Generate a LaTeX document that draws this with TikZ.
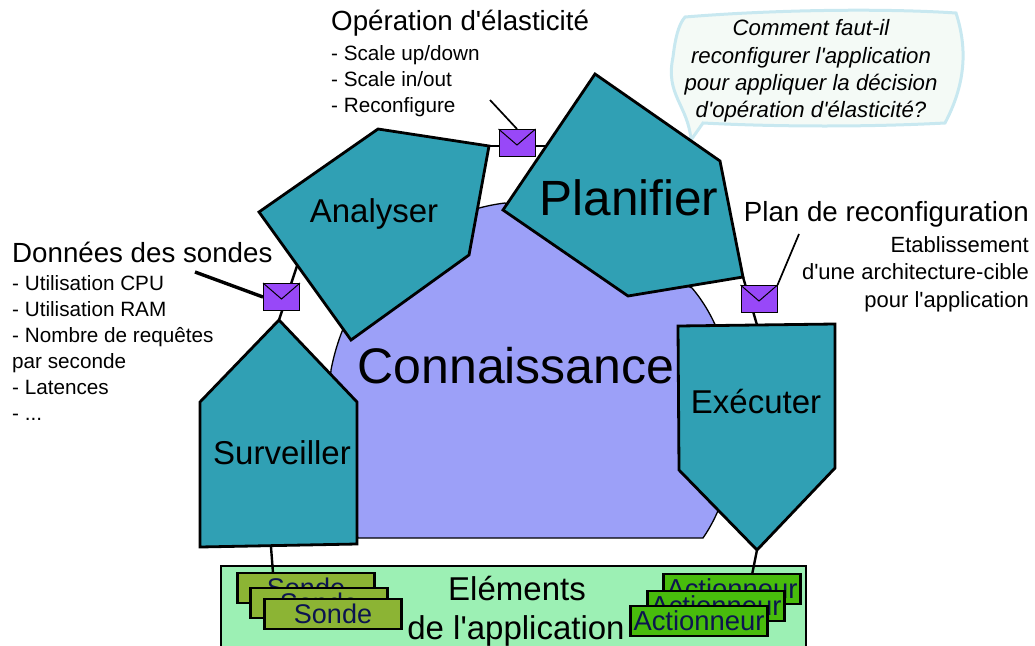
\documentclass[tikz,border=0pt]{standalone}
\usepackage{fontspec}
\defaultfontfeatures[\rmfamily]{}
\setmainfont{Liberation Sans}[Ligatures=ResetAll]
\usetikzlibrary{calc}
\definecolor{tealbox}{HTML}{30A0B4}
\definecolor{knowledge}{HTML}{9CA0F8}
\definecolor{appgreen}{HTML}{9CF0B4}
\definecolor{sondegreen}{HTML}{8CB434}
\definecolor{actgreen}{HTML}{48BC0C}
\definecolor{mailpurple}{HTML}{9848F8}
\definecolor{bubblefill}{HTML}{F4FAF6}
\definecolor{bubbleline}{HTML}{C8E8F0}
\definecolor{navytext}{HTML}{0C1450}
\def\fsize#1{\fontsize{#1}{#1}\selectfont}
\def\mail(#1)(#2)% Syntax: (name) (center)
    { \node[mailbox] (#1) at (#2) {};
      \draw[line width=1pt] (#1.north west) -- ($(#1.center)+(0,2)$) -- (#1.north east); }
\begin{document}
\begin{tikzpicture}
    [x=1pt,y=-1pt,
     phase/.style={draw=black,line width=2.8pt,line join=miter,fill=tealbox},
     link/.style={black,line width=2.4pt},
     leader/.style={black,line width=1.7pt},
     mailbox/.style={draw=black,line width=1pt,fill=mailpurple,minimum width=36pt,minimum height=27pt,inner sep=0pt},
     sonde/.style={draw=black,line width=2.4pt,fill=sondegreen,minimum width=137pt,minimum height=30pt,inner sep=0pt,text=navytext,font=\fsize{27}},
     actuator/.style={draw=black,line width=2.4pt,fill=actgreen,minimum width=137pt,minimum height=30pt,inner sep=0pt,text=navytext,font=\fsize{27.4}},
     title/.style={inner sep=0pt,font=\fsize{27.7}},
     phasename/.style={inner sep=0pt,font=\fsize{33}},
     details/.style={inner sep=0pt,font=\fontsize{20.7}{26}\selectfont}]
    \useasboundingbox (0,0) rectangle (1035,645);

    % corners of the phases
    \coordinate (anaA) at (378,129);
    \coordinate (anaB) at (489,146);
    \coordinate (anaC) at (469,255);
    \coordinate (anaD) at (351,340);
    \coordinate (anaE) at (259,212);
    \coordinate (anaEdge) at (297,266);
    \coordinate (plaA) at (595,74);
    \coordinate (plaB) at (720,161);
    \coordinate (plaC) at (743,277);
    \coordinate (plaD) at (628,296);
    \coordinate (plaE) at (503,210);
    \coordinate (plaEdge) at (555,146);
    \coordinate (surA) at (279,320);
    \coordinate (surB) at (357,402);
    \coordinate (surC) at (357,544);
    \coordinate (surD) at (200,547);
    \coordinate (surE) at (200,402);
    \coordinate (exeA) at (678,326);
    \coordinate (exeB) at (835,324);
    \coordinate (exeC) at (835,468);
    \coordinate (exeD) at (757,550);
    \coordinate (exeE) at (679,470);
    \coordinate (exeEdge) at (757,325);

    % knowledge
    \draw[fill=knowledge,line width=1.3pt] (505,203)
        .. controls (430,212) and (350,270) .. (331,370)
        .. controls (326,430) and (340,500) .. (358,538)
        -- (703,538) .. controls (750,470) and (745,350) .. (692,288) -- cycle;
    \node[inner sep=0pt,font=\fsize{50}] (connaissance) at (516,366) {Connaissance};

    % application
    \draw[fill=appgreen,line width=2.4pt] (221,566) rectangle (806,660);
    \node[inner sep=0pt,font=\fsize{33}] (elements) at (517,589) {Eléments};
    \node[inner sep=0pt,font=\fsize{33}] (application) at (516,631) {de l'application};

    \draw[fill=bubblefill,draw=bubbleline,line width=3pt] (685,17)
        .. controls (770,10) and (880,8) .. (956,13)
        .. controls (968,50) and (965,85) .. (945,123)
        .. controls (870,127) and (780,127) .. (703,123)
        -- (691,140) .. controls (688,105) and (665,95) .. (673,57)
        .. controls (675,40) and (678,25) .. (685,17) -- cycle;
    \node[inner sep=0pt,align=center,font=\fontsize{22.2}{27.3}\selectfont\itshape] (question) at (811,71)
        {Comment faut-il\\reconfigurer l'application\\pour appliquer la décision\\d'opération d'élasticité?};

    \draw[link] (surA) -- (anaEdge);
    \draw[link] (anaB) -- (plaEdge);
    \draw[link] (plaC) -- (exeEdge);
    \draw[link] (surD)++(71,0) -- ++(2,26);
    \draw[link] (exeD) -- (752,575);

    % sensors and actuators
    \node[sonde] (sondeA) at (306,588) {Sonde};
    \node[sonde] (sondeB) at (319,603) {Sonde};
    \node[sonde] (sondeC) at (333,614) {Sonde};
    \node[actuator] (actA) at (732,589) {Actionneur};
    \node[actuator] (actB) at (716,606) {Actionneur};
    \node[actuator] (actC) at (699,621) {Actionneur};

    % phases
    \draw[phase] (anaA) -- (anaB) -- (anaC) -- (anaD) -- (anaE) -- cycle;
    \draw[phase] (plaA) -- (plaB) -- (plaC) -- (plaD) -- (plaE) -- cycle;
    \draw[phase] (surA) -- (surB) -- (surC) -- (surD) -- (surE) -- cycle;
    \draw[phase] (exeA) -- (exeB) -- (exeC) -- (exeD) -- (exeE) -- cycle;
    \node[phasename] (analyser) at (374,214) {Analyser};
    \node[inner sep=0pt,font=\fsize{49.5}] (planifier) at (629,198) {Planifier};
    \node[phasename] (surveiller) at (282,453) {Surveiller};
    \node[phasename] (executer) at (756,402) {Exécuter};

    % messages
    \mail(mailSondes)(281.5,297)
    \mail(mailElast)(517,143)
    \mail(mailPlan)(759,299)
    \coordinate (freeSondes) at (195,272);
    \coordinate (freeElast) at (490,100);
    \coordinate (freePlan) at (799,234);
    \draw[black,line width=3.4pt] (freeSondes) -- (mailSondes.west);
    \draw[leader] (freeElast) -- (mailElast.north);
    \draw[leader] (freePlan) -- (mailPlan.north east);

    % labels
    \node[title,anchor=west] (titleSondes) at (12,252) {Données des sondes};
    \node[details,anchor=north west,align=left] (listSondes) at (12,275)
        {- Utilisation CPU\\- Utilisation RAM\\- Nombre de requêtes\\par seconde\\- Latences\\- ...};
    \node[title,anchor=west] (titleElast) at (331,23) {Opération d'élasticité};
    \node[details,anchor=north west,align=left] (listElast) at (331,45)
        {- Scale up/down\\- Scale in/out\\- Reconfigure};
    \node[title,anchor=east] (titlePlan) at (1029,214) {Plan de reconfiguration};
    \node[inner sep=0pt,font=\fontsize{22}{27.5}\selectfont,anchor=north east,align=right] (listPlan) at (1029,236)
        {Etablissement\\d'une architecture-cible\\pour l'application};
\end{tikzpicture}
\end{document}
